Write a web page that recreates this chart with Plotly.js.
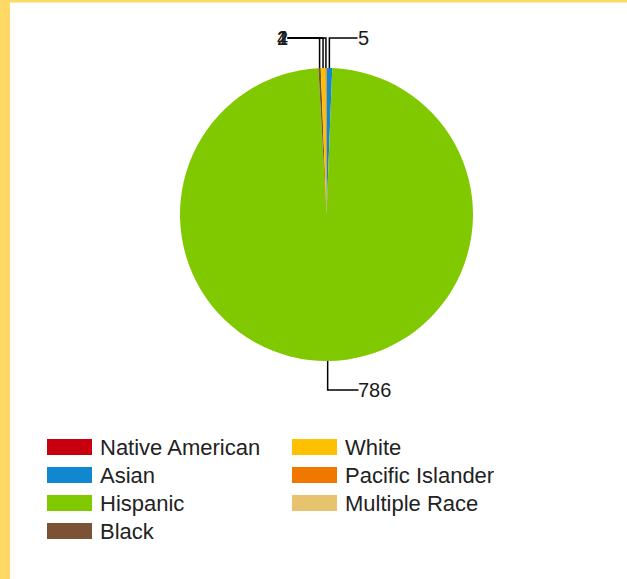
<!DOCTYPE html>
<html>
<head>
<meta charset="utf-8">
<script src="https://cdn.plot.ly/plotly-3.0.1.min.js"></script>
<style>html,body{margin:0;padding:0;background:#fff;}#chart{width:627px;height:579px;}</style>
</head>
<body>
<div id="chart"></div>
<script>
const categories = ["Native American", "Asian", "Hispanic", "Black", "White", "Pacific Islander", "Multiple Race"];
const values = [0, 5, 786, 2, 4, 1, 0];
const colors = ["#C8000E", "#1187CF", "#80C800", "#7B5234", "#FFC000", "#F07700", "#E8C36E"];

const W = 627, H = 579;
const cx = 326.5, cy = 214.5, R = 146.5;
const px = x => x / W;
const py = y => 1 - y / H;

const total = values.reduce((a, b) => a + b, 0);
const shapes = [];
const annotations = [];
const lineStyle = {color: "#000000", width: 1.5};
const labelFont = {family: "Liberation Sans, Arial, sans-serif", size: 20, color: "#1a1a1a"};

// borders
shapes.push({type: "rect", xref: "paper", yref: "paper", x0: 0, x1: px(10), y0: 0, y1: 1, fillcolor: "#FFD966", line: {width: 0}, layer: "below"});
shapes.push({type: "rect", xref: "paper", yref: "paper", x0: 0, x1: 1, y0: py(2.5), y1: 1, fillcolor: "#FFD966", line: {width: 0}, layer: "below"});

// leader lines and labels derived from slice angles
let cum = 0;
const maxVal = Math.max(...values);
values.forEach((v, i) => {
  if (v <= 0) { return; }
  const mid = (cum + v / 2) / total * 2 * Math.PI;
  cum += v;
  const ex = cx + R * Math.sin(mid);
  const ey = cy - R * Math.cos(mid);
  if (v === maxVal) {
    const yl = 390;
    shapes.push({type: "path", xref: "paper", yref: "paper",
      path: `M ${px(ex)} ${py(ey)} L ${px(ex)} ${py(yl)} L ${px(cx + 32)} ${py(yl)}`, line: lineStyle});
    annotations.push({xref: "paper", yref: "paper", x: px(cx + 30), y: py(yl), text: String(v), showarrow: false,
      xanchor: "left", yanchor: "middle", font: labelFont});
  } else {
    const yl = 38;
    const right = Math.sin(mid) >= 0;
    const lx = right ? cx + 31 : cx - 39;
    shapes.push({type: "path", xref: "paper", yref: "paper",
      path: `M ${px(ex)} ${py(ey)} L ${px(ex)} ${py(yl)} L ${px(lx)} ${py(yl)}`, line: lineStyle});
    annotations.push({xref: "paper", yref: "paper", x: px(right ? lx - 2 : lx + 2), y: py(yl), text: String(v), showarrow: false,
      xanchor: right ? "left" : "right", yanchor: "middle", font: labelFont});
  }
});

// custom legend, column-major, 4 rows
const legFont = {family: "Liberation Sans, Arial, sans-serif", size: 22, color: "#222222"};
categories.forEach((c, i) => {
  const col = Math.floor(i / 4), row = i % 4;
  const sx = 47 + col * 245;
  const sy = 447 + row * 28;
  shapes.push({type: "rect", xref: "paper", yref: "paper", x0: px(sx), x1: px(sx + 45), y0: py(sy + 8), y1: py(sy - 8),
    fillcolor: colors[i], line: {width: 0}});
  annotations.push({xref: "paper", yref: "paper", x: px(sx + 51), y: py(sy), text: c, showarrow: false,
    xanchor: "left", yanchor: "middle", font: legFont});
});

const trace = {
  type: "pie",
  labels: categories,
  values: values,
  marker: {colors: colors, line: {width: 0}},
  sort: false,
  direction: "clockwise",
  rotation: 0,
  textinfo: "none",
  showlegend: false,
  domain: {x: [px(cx - R), px(cx + R)], y: [py(cy + R), py(cy - R)]}
};

Plotly.newPlot("chart", [trace], {
  width: W, height: H,
  margin: {l: 0, r: 0, t: 0, b: 0},
  paper_bgcolor: "#FFFFFF",
  showlegend: false,
  shapes: shapes,
  annotations: annotations
}, {displayModeBar: false, staticPlot: true});
</script>
</body>
</html>
